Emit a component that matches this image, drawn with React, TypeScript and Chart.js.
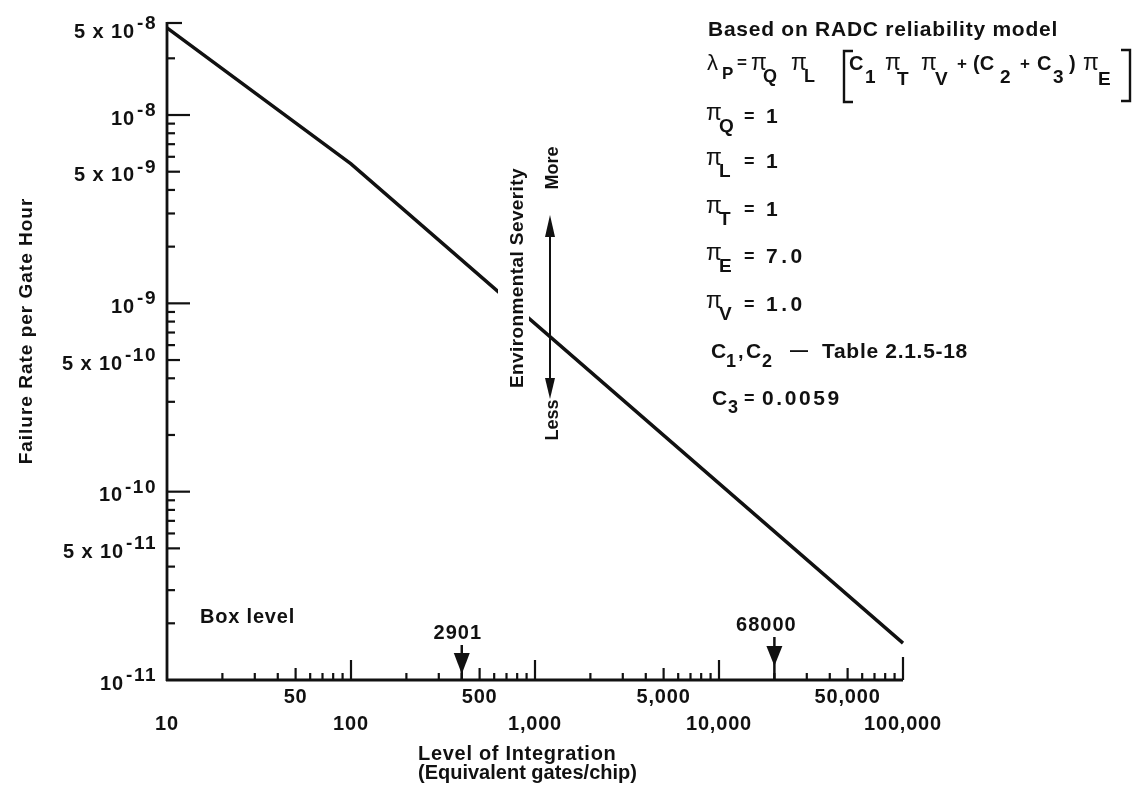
import React, { useEffect, useRef } from "react";
import { Chart, registerables } from "chart.js";

Chart.register(...registerables);

// ---- data ----
const xValues = [10, 100, 100000];
const yValues = [2.9e-8, 5.5e-9, 1.57e-11];

const xMin = 10;
const xMax = 100000;
const yMin = 1e-11;
const yMax = 3.08e-8; // top of the printed axis (labelled "5 x 10^-8" in the original)

const xRow1Ticks = [50, 500, 5000, 50000];
const xRow1Labels = ["50", "500", "5,000", "50,000"];
const xRow2Ticks = [10, 100, 1000, 10000, 100000];
const xRow2Labels = ["10", "100", "1,000", "10,000", "100,000"];
const xDecades = [10, 100, 1000, 10000];

const yLabelTicks = [1e-11, 5e-11, 1e-10, 5e-10, 1e-9, 5e-9, 1e-8, yMax];
const yLabelMantissa = ["", "5 x ", "", "5 x ", "", "5 x ", "", "5 x "];
const yLabelExponent = ["-11", "-11", "-10", "-10", "-9", "-9", "-8", "-8"];
const yDecades = [1e-11, 1e-10, 1e-9, 1e-8];

const minorMultipliers = [2, 3, 4, 5, 6, 7, 8, 9];

const markerValues = [400, 20000];
const markerLabels = ["2901", "68000"];

const FONT = '"Liberation Sans", Arial, Helvetica, sans-serif';
const INK = "#111";

function txt(ctx: CanvasRenderingContext2D, s: string, x: number, y: number, size: number, opts: any = {}) {
  ctx.font = `${opts.weight ?? "bold"} ${size}px ${FONT}`;
  (ctx as any).letterSpacing = `${opts.ls ?? 0.8}px`;
  ctx.textAlign = opts.align ?? "left";
  ctx.textBaseline = "alphabetic";
  ctx.fillStyle = INK;
  ctx.fillText(s, x, y);
}

function measure(ctx: CanvasRenderingContext2D, s: string, size: number, opts: any = {}) {
  ctx.font = `${opts.weight ?? "bold"} ${size}px ${FONT}`;
  (ctx as any).letterSpacing = `${opts.ls ?? 0.8}px`;
  return ctx.measureText(s).width;
}

const decorPlugin = {
  id: "decor",
  afterDraw(chart: any) {
    const ctx: CanvasRenderingContext2D = chart.ctx;
    const xs = chart.scales.x;
    const ys = chart.scales.y;
    const area = chart.chartArea;
    const ax = area.left;
    const ay = area.bottom;
    ctx.save();
    ctx.strokeStyle = INK;
    ctx.fillStyle = INK;
    ctx.lineCap = "butt";

    // axes
    ctx.lineWidth = 2.8;
    ctx.beginPath();
    ctx.moveTo(ax, area.top - 1);
    ctx.lineTo(ax, ay + 1);
    ctx.moveTo(ax - 1, ay);
    ctx.lineTo(area.right, ay);
    ctx.stroke();

    // y ticks (inward)
    ctx.lineWidth = 2.2;
    const yTick = (v: number, len: number) => {
      const p = ys.getPixelForValue(v);
      ctx.beginPath();
      ctx.moveTo(ax, p);
      ctx.lineTo(ax + len, p);
      ctx.stroke();
    };
    yDecades.forEach((d) => {
      if (d > yMin) yTick(d, 23);
      minorMultipliers.forEach((m) => {
        const v = d * m;
        if (v < yMax * 0.8) yTick(v, m === 5 ? 13 : 8);
      });
    });
    yTick(yMax, 15);

    // x ticks (inward)
    const xTick = (v: number, len: number) => {
      const p = xs.getPixelForValue(v);
      ctx.beginPath();
      ctx.moveTo(p, ay);
      ctx.lineTo(p, ay - len);
      ctx.stroke();
    };
    xDecades.forEach((d) => {
      if (d > xMin) xTick(d, 20);
      minorMultipliers.forEach((m) => xTick(d * m, m === 5 ? 12 : 7));
    });
    xTick(xMax, 23);

    // y tick labels with superscript exponent
    const right = 157;
    yLabelTicks.forEach((v, i) => {
      const p = ys.getPixelForValue(v);
      const base = yLabelMantissa[i] + "10";
      const exp = yLabelExponent[i];
      const ew = measure(ctx, exp, 19, { ls: 1.5 });
      const bw = measure(ctx, base, 20, { ls: 0.9 });
      const off = i === yLabelTicks.length - 1 ? 5 : 0;
      txt(ctx, base, right - ew - bw - 2, p + 9.5 + off, 20, { ls: 0.9 });
      txt(ctx, exp, right - ew, p + 1 + off, 19, { ls: 1.5 });
    });

    // x tick labels, two staggered rows
    xRow1Ticks.forEach((v, i) => {
      txt(ctx, xRow1Labels[i], xs.getPixelForValue(v), 703, 20, { align: "center", ls: 0.8 });
    });
    xRow2Ticks.forEach((v, i) => {
      txt(ctx, xRow2Labels[i], xs.getPixelForValue(v), 730, 20, { align: "center", ls: 0.8 });
    });

    // axis titles
    txt(ctx, "Level of Integration", 418, 760, 20, { ls: 0.7 });
    txt(ctx, "(Equivalent gates/chip)", 418, 779, 20, { ls: 0 });
    ctx.save();
    ctx.translate(32, 331);
    ctx.rotate(-Math.PI / 2);
    txt(ctx, "Failure Rate per Gate Hour", 0, 0, 19, { align: "center", ls: 1.0 });
    ctx.restore();

    // markers (2901, 68000)
    markerValues.forEach((v, i) => {
      const p = xs.getPixelForValue(v);
      const top = i === 0 ? 645 : 637;
      const headTop = i === 0 ? 653 : 646;
      const tip = i === 0 ? 674 : 666;
      ctx.lineWidth = 2.5;
      ctx.beginPath();
      ctx.moveTo(p, top);
      ctx.lineTo(p, ay);
      ctx.stroke();
      ctx.beginPath();
      ctx.moveTo(p - 8, headTop);
      ctx.lineTo(p + 8, headTop);
      ctx.lineTo(p, tip);
      ctx.closePath();
      ctx.fill();
      txt(ctx, markerLabels[i], p - (i === 0 ? 4 : 8), i === 0 ? 639 : 631, 20, { align: "center", ls: 1.0 });
    });

    // Box level
    txt(ctx, "Box level", 200, 623, 20, { ls: 0.8 });

    // Environmental severity annotation (knocks out the line behind it)
    ctx.fillStyle = "#fff";
    ctx.fillRect(498, 166, 31, 226);
    ctx.save();
    ctx.translate(523, 278);
    ctx.rotate(-Math.PI / 2);
    txt(ctx, "Environmental Severity", 0, 0, 19, { align: "center", ls: 0.4 });
    ctx.restore();
    ctx.save();
    ctx.translate(558, 168);
    ctx.rotate(-Math.PI / 2);
    txt(ctx, "More", 0, 0, 18, { align: "center", ls: 0 });
    ctx.restore();
    ctx.save();
    ctx.translate(558, 420);
    ctx.rotate(-Math.PI / 2);
    txt(ctx, "Less", 0, 0, 18, { align: "center", ls: 0 });
    ctx.restore();
    ctx.fillStyle = INK;
    ctx.lineWidth = 2;
    ctx.beginPath();
    ctx.moveTo(550, 232);
    ctx.lineTo(550, 384);
    ctx.stroke();
    ctx.beginPath();
    ctx.moveTo(550, 215);
    ctx.lineTo(545, 237);
    ctx.lineTo(555, 237);
    ctx.closePath();
    ctx.fill();
    ctx.beginPath();
    ctx.moveTo(550, 399);
    ctx.lineTo(545, 378);
    ctx.lineTo(555, 378);
    ctx.closePath();
    ctx.fill();

    // right-hand text block
    txt(ctx, "Based on RADC reliability model", 708, 36, 21, { ls: 0.75 });

    const PI = "\u03C0";
    const piAt = (x: number, y: number) => txt(ctx, PI, x, y, 23, { weight: "normal", ls: 0 });
    // lambda formula
    const b = 70;
    const sb = 83;
    txt(ctx, "\u03BB", 707, b, 22, { weight: "normal", ls: 0 });
    txt(ctx, "P", 722, sb - 4, 17, { ls: 0 });
    txt(ctx, "=", 737, b - 2, 17, { ls: 0 });
    piAt(751, b);
    txt(ctx, "Q", 763, sb - 1, 18, { ls: 0 });
    piAt(791, b);
    txt(ctx, "L", 804, sb - 1, 18, { ls: 0 });
    txt(ctx, "C", 849, b, 20, { ls: 0 });
    txt(ctx, "1", 865, sb, 19, { ls: 0 });
    piAt(885, b);
    txt(ctx, "T", 897, sb + 2, 19, { ls: 0 });
    piAt(921, b);
    txt(ctx, "V", 935, sb + 2, 19, { ls: 0 });
    txt(ctx, "+", 957, b - 1, 17, { ls: 0 });
    txt(ctx, "(C", 973, b, 20, { ls: 0 });
    txt(ctx, "2", 1000, sb, 19, { ls: 0 });
    txt(ctx, "+", 1020, b - 1, 17, { ls: 0 });
    txt(ctx, "C", 1037, b, 20, { ls: 0 });
    txt(ctx, "3", 1053, sb, 19, { ls: 0 });
    txt(ctx, ")", 1069, b, 20, { ls: 0 });
    piAt(1083, b);
    txt(ctx, "E", 1098, sb + 2, 19, { ls: 0 });
    // brackets
    ctx.strokeStyle = INK;
    ctx.lineWidth = 2.4;
    ctx.beginPath();
    ctx.moveTo(853, 51);
    ctx.lineTo(844, 51);
    ctx.lineTo(844, 102);
    ctx.lineTo(853, 102);
    ctx.moveTo(1121, 50);
    ctx.lineTo(1130, 50);
    ctx.lineTo(1130, 101);
    ctx.lineTo(1121, 101);
    ctx.stroke();

    // pi factors
    const piLine = (sub: string, value: string, base: number) => {
      piAt(706, base - 3);
      txt(ctx, sub, 719, base + 9, 19, { ls: 0 });
      txt(ctx, "=", 744, base - 1, 18, { ls: 0 });
      txt(ctx, value, 766, base, 21, { ls: value.length > 1 ? 3.5 : 0 });
    };
    piLine("Q", "1", 123);
    piLine("L", "1", 168);
    piLine("T", "1", 216);
    piLine("E", "7.0", 263);
    piLine("V", "1.0", 311);

    // C lines
    txt(ctx, "C", 711, 358, 21, { ls: 0 });
    txt(ctx, "1", 726, 367, 18, { ls: 0 });
    txt(ctx, ",", 738, 358, 20, { ls: 0 });
    txt(ctx, "C", 746, 358, 21, { ls: 0 });
    txt(ctx, "2", 762, 367, 18, { ls: 0 });
    txt(ctx, "\u2014", 790, 356, 18, { ls: 0 });
    txt(ctx, "Table 2.1.5-18", 822, 358, 21, { ls: 0.7 });

    txt(ctx, "C", 712, 405, 21, { ls: 0 });
    txt(ctx, "3", 728, 413, 18, { ls: 0 });
    txt(ctx, "=", 744, 404, 18, { ls: 0 });
    txt(ctx, "0.0059", 762, 405, 21, { ls: 2.6 });

    ctx.restore();
  },
};

export default function App() {
  const canvasRef = useRef<HTMLCanvasElement | null>(null);

  useEffect(() => {
    if (!canvasRef.current) return;
    const chart = new Chart(canvasRef.current, {
      type: "line",
      data: {
        datasets: [
          {
            data: xValues.map((x, i) => ({ x, y: yValues[i] })),
            borderColor: INK,
            borderWidth: 3.4,
            pointRadius: 0,
            tension: 0,
            fill: false,
            clip: false as any,
            borderJoinStyle: "miter",
          },
        ],
      },
      options: {
        responsive: false,
        animation: false,
        devicePixelRatio: 1,
        layout: { padding: { left: 167, right: 237, top: 23, bottom: 110 } },
        plugins: { legend: { display: false }, tooltip: { enabled: false } },
        scales: {
          x: { type: "logarithmic", min: xMin, max: xMax, display: false },
          y: { type: "logarithmic", min: yMin, max: yMax, display: false },
        },
      },
      plugins: [decorPlugin],
    });
    return () => chart.destroy();
  }, []);

  return (
    <div style={{ position: "absolute", left: 0, top: 0, width: 1140, height: 790, background: "#fff" }}>
      <canvas ref={canvasRef} width={1140} height={790} style={{ display: "block" }} />
    </div>
  );
}
